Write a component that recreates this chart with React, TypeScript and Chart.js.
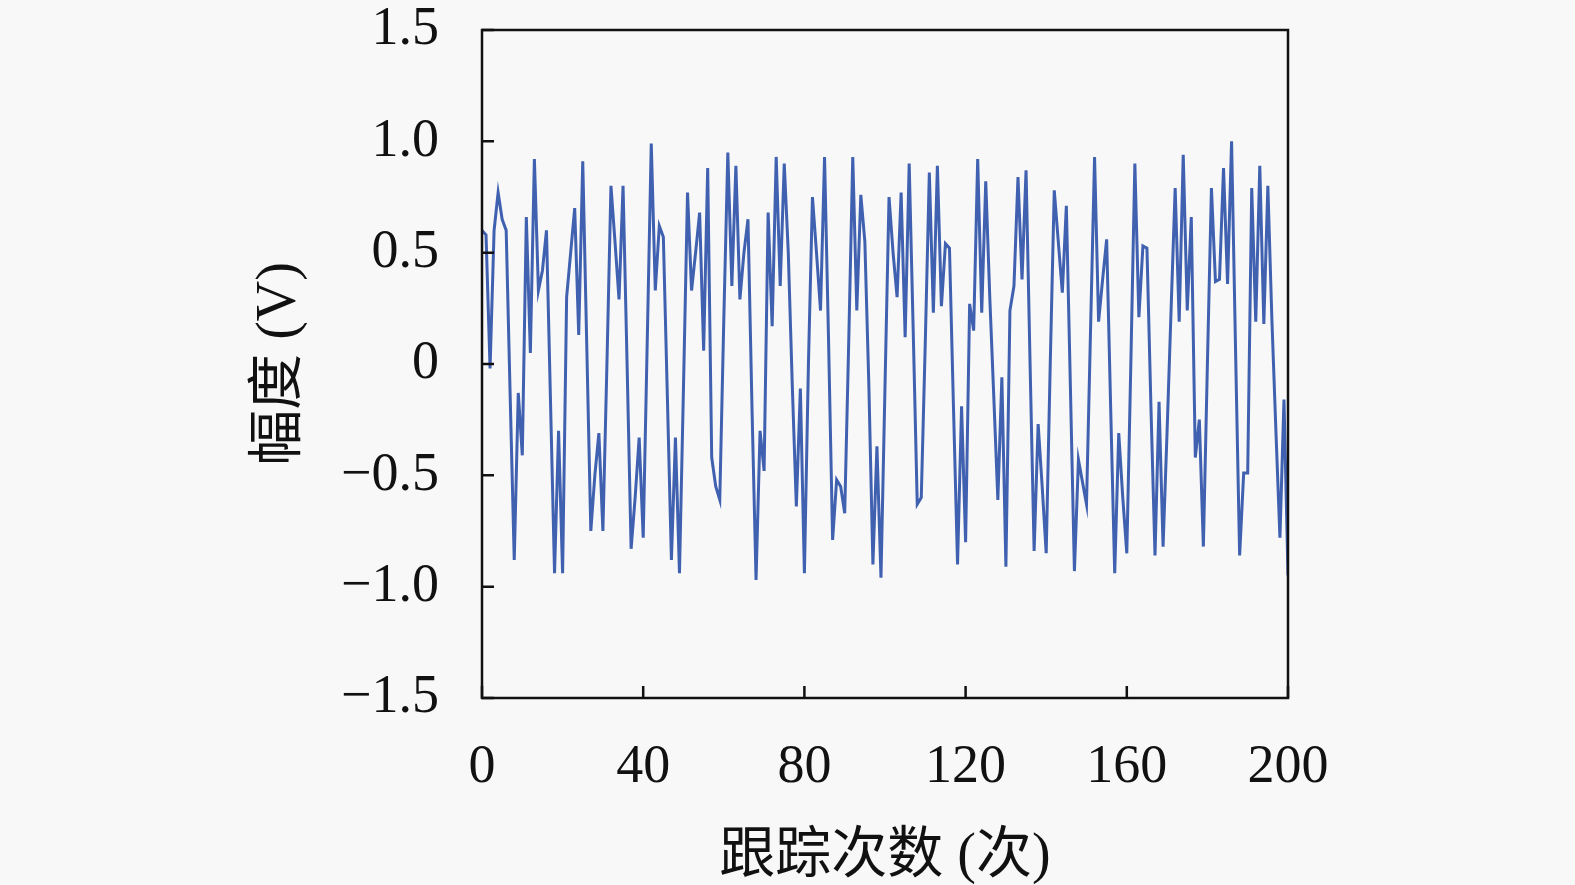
import React, { useEffect, useRef } from 'react';
import { Chart, registerables } from 'chart.js';

Chart.register(...registerables);

// amplitude (V) per tracking step (index = step 0..200)
const amplitude = [
  0.6, 0.58, -0.02, 0.6, 0.77, 0.65, 0.6, -0.15, -0.88, -0.13,
  -0.41, 0.66, 0.05, 0.92, 0.33, 0.42, 0.6, -0.17, -0.94, -0.3,
  -0.94, 0.3, 0.5, 0.7, 0.13, 0.91, 0.08, -0.75, -0.5, -0.31,
  -0.75, 0.0, 0.8, 0.55, 0.29, 0.8, 0.0, -0.83, -0.6, -0.33,
  -0.78, 0.1, 0.99, 0.33, 0.62, 0.57, -0.15, -0.88, -0.33, -0.94,
  -0.1, 0.77, 0.33, 0.5, 0.68, 0.06, 0.88, -0.42, -0.55, -0.61,
  0.2, 0.95, 0.35, 0.89, 0.29, 0.5, 0.65, -0.2, -0.97, -0.3,
  -0.48, 0.68, 0.17, 0.93, 0.35, 0.9, 0.5, -0.1, -0.64, -0.11,
  -0.94, 0.0, 0.75, 0.5, 0.24, 0.93, 0.1, -0.79, -0.52, -0.55,
  -0.67, 0.1, 0.93, 0.24, 0.76, 0.55, -0.1, -0.9, -0.37, -0.96,
  -0.1, 0.75, 0.5, 0.3, 0.77, 0.12, 0.9, 0.15, -0.63, -0.6,
  0.1, 0.86, 0.23, 0.89, 0.26, 0.54, 0.52, -0.2, -0.9, -0.19,
  -0.8, 0.27, 0.15, 0.92, 0.23, 0.82, 0.3, -0.15, -0.61, -0.06,
  -0.91, 0.24, 0.35, 0.84, 0.38, 0.87, 0.0, -0.84, -0.27, -0.55,
  -0.85, 0.0, 0.78, 0.55, 0.32, 0.71, -0.1, -0.93, -0.43, -0.53,
  -0.63, 0.15, 0.93, 0.19, 0.38, 0.56, -0.2, -0.94, -0.31, -0.6,
  -0.85, 0.0, 0.9, 0.21, 0.53, 0.52, -0.2, -0.86, -0.17, -0.82,
  -0.3, 0.25, 0.79, 0.19, 0.94, 0.24, 0.66, -0.42, -0.25, -0.82,
  0.0, 0.79, 0.37, 0.38, 0.88, 0.36, 1.0, 0.05, -0.86, -0.49,
  -0.49, 0.79, 0.19, 0.89, 0.18, 0.8, 0.2, -0.3, -0.78, -0.16,
  -0.95
];

const xTicks = [0, 40, 80, 120, 160, 200];
const yTicks = [-1.5, -1.0, -0.5, 0, 0.5, 1.0, 1.5];

const serif = '"Liberation Serif", "Noto Sans CJK SC", serif';

function fmtY(v: number) {
  if (v === 0) return '0';
  return (v < 0 ? '\u2212' : '') + Math.abs(v).toFixed(1);
}

const frame = {
  id: 'frame',
  beforeDraw(chart: any) {
    const { ctx, width, height } = chart;
    ctx.save();
    ctx.fillStyle = '#f8f8f8';
    ctx.fillRect(0, 0, width, height);
    ctx.restore();
  },
  afterDraw(chart: any) {
    const { ctx, chartArea } = chart;
    const { left, right, top, bottom } = chartArea;
    const xs = chart.scales.x;
    const ys = chart.scales.y;
    ctx.save();
    ctx.strokeStyle = '#111';
    ctx.lineWidth = 2.5;
    ctx.strokeRect(left, top, right - left, bottom - top);
    ctx.beginPath();
    for (const t of xTicks) {
      const p = xs.getPixelForValue(t);
      ctx.moveTo(p, bottom);
      ctx.lineTo(p, bottom - 12);
    }
    for (const t of yTicks) {
      const p = ys.getPixelForValue(t);
      ctx.moveTo(left, p);
      ctx.lineTo(left + 12, p);
    }
    ctx.stroke();
    ctx.restore();
  }
};

export default function App() {
  const canvas = useRef<HTMLCanvasElement>(null);

  useEffect(() => {
    document.body.style.margin = '0';
    const chart = new Chart(canvas.current!, {
      type: 'line',
      data: {
        datasets: [{
          label: 'amplitude',
          data: amplitude.map((y, i) => ({ x: i, y })),
          borderColor: '#4060b0',
          borderWidth: 3,
          pointRadius: 0,
          tension: 0,
          fill: false
        }]
      },
      options: {
        animation: false,
        responsive: false,
        devicePixelRatio: 1,
        layout: { padding: { top: 30, right: 287, left: 0, bottom: 0 } },
        plugins: { legend: { display: false }, tooltip: { enabled: false } },
        scales: {
          x: {
            type: 'linear',
            min: 0,
            max: 200,
            afterBuildTicks: (s: any) => { s.ticks = xTicks.map(v => ({ value: v })); },
            grid: { display: false, drawTicks: false },
            border: { display: false },
            ticks: { color: '#111', padding: 37, maxRotation: 0, font: { family: serif, size: 54 } },
            title: {
              display: true,
              text: '跟踪次数 (次)',
              color: '#111',
              padding: { top: 0, bottom: 0 },
              font: { family: serif, size: 56, lineHeight: 1.0 }
            },
            afterFit: (s: any) => {
              s.height = 187;
              s.paddingLeft = 0;
              s.paddingRight = 0;
            }
          },
          y: {
            min: -1.5,
            max: 1.5,
            afterBuildTicks: (s: any) => { s.ticks = yTicks.map(v => ({ value: v })); },
            grid: { display: false, drawTicks: false },
            border: { display: false },
            ticks: {
              color: '#111',
              padding: 43,
              font: { family: serif, size: 54 },
              callback: (v: any) => fmtY(Number(v))
            },
            title: {
              display: true,
              text: '幅度 (V)',
              color: '#111',
              padding: { top: 247, bottom: 0 },
              font: { family: serif, size: 56 }
            },
            afterFit: (s: any) => {
              s.width = 482;
              s.paddingTop = 0;
              s.paddingBottom = 0;
            }
          }
        }
      },
      plugins: [frame]
    });
    return () => {
      chart.destroy();
    };
  }, []);

  return (
    <div style={{ width: 1575, height: 885 }}>
      <canvas ref={canvas} width={1575} height={885}></canvas>
    </div>
  );
}
